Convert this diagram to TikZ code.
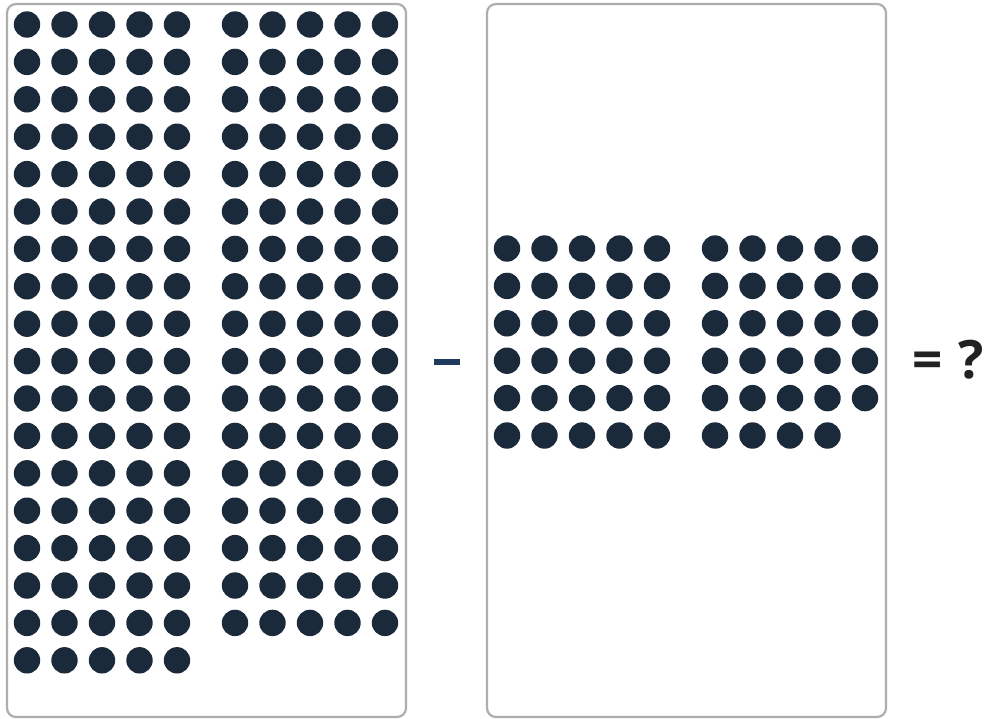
\documentclass[tikz,border=0pt]{standalone}
\usepackage{fontspec}
\newfontfamily\eqfont{Open Sans}
\definecolor{dotc}{HTML}{1B2A3A}
\definecolor{boxc}{HTML}{ADADAD}
\definecolor{minusc}{HTML}{1E3A5F}
\definecolor{txtc}{HTML}{222222}
\begin{document}
\begin{tikzpicture}[x=1pt,y=-1pt,
  panel/.style={draw=boxc,line width=2.2pt,rounded corners=9pt,fill=white},
  dot/.style={fill=dotc}]
\useasboundingbox (0,0) rectangle (987,718);
\draw[panel] (7,4) rectangle (406,717);
\draw[panel] (487,4) rectangle (886,717);
% left panel: 175
\foreach \r in {0,...,17}{\foreach \c in {0,...,4}{\fill[dot] (27+\c*37.5,24.5+\r*37.4) circle (13.2);}}
\foreach \r in {0,...,16}{\foreach \c in {0,...,4}{\fill[dot] (235+\c*37.5,24.5+\r*37.4) circle (13.2);}}
% right panel: 59
\foreach \r in {0,...,5}{\foreach \c in {0,...,4}{\fill[dot] (507+\c*37.5,248.5+\r*37.4) circle (13.2);}}
\foreach \r in {0,...,4}{\foreach \c in {0,...,4}{\fill[dot] (715+\c*37.5,248.5+\r*37.4) circle (13.2);}}
\foreach \c in {0,...,3}{\fill[dot] (715+\c*37.5,248.5+5*37.4) circle (13.2);}
\fill[minusc] (434,359) rectangle (460,365);
\node[font=\eqfont\fontsize{53}{60}\selectfont\bfseries,text=txtc,inner sep=0pt,anchor=base] (eq) at (948,378) {=\hspace{15pt}?};
\end{tikzpicture}
\end{document}
